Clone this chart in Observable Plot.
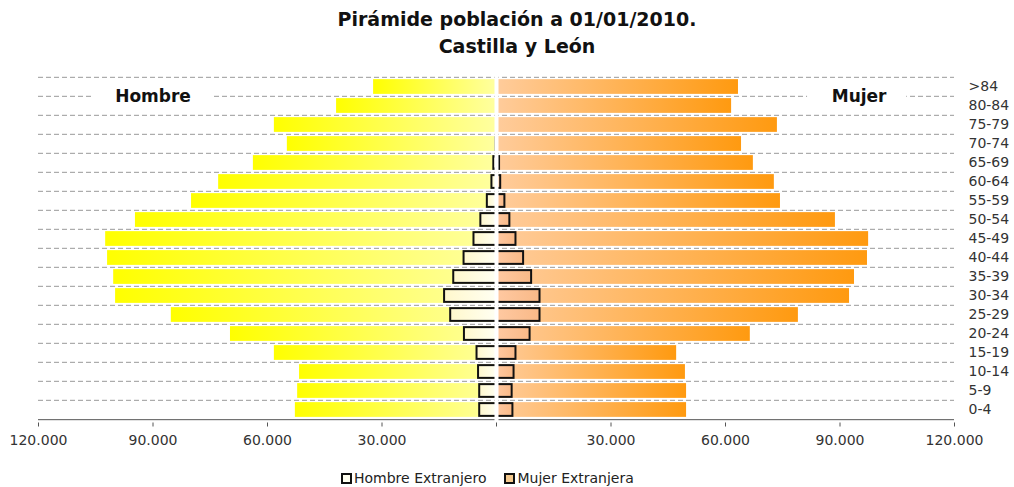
<!DOCTYPE html>
<html><head><meta charset="utf-8">
<script src="https://cdn.jsdelivr.net/npm/d3@7"></script>
<script src="https://cdn.jsdelivr.net/npm/@observablehq/plot@0.6"></script>
<style>
body{margin:0;background:#fff;}
#wrap{position:relative;width:1014px;height:487px;overflow:hidden;font-family:"DejaVu Sans",sans-serif;}
#chart{position:absolute;top:0;left:0;}
#title{position:absolute;top:6px;left:517px;transform:translateX(-50%);text-align:center;font-weight:bold;font-size:19px;line-height:27px;color:#111;white-space:nowrap;}
#legend{position:absolute;top:469px;left:341px;display:flex;align-items:center;font-size:14px;line-height:18px;color:#222;white-space:nowrap;}
#legend .sw{display:inline-block;width:7px;height:7px;border:2px solid #111;margin-right:2px;}
#legend .item{display:flex;align-items:center;margin-right:18px;}
</style></head>
<body><div id="wrap"><div id="chart"></div><div id="title">Pirámide población a 01/01/2010.<br>Castilla y León</div><div id="legend"></div></div>
<script>
// Age groups, top to bottom
const ages = [">84","80-84","75-79","70-74","65-69","60-64","55-59","50-54","45-49","40-44","35-39","30-34","25-29","20-24","15-19","10-14","5-9","0-4"];
// Total population (persons)
const hombres = [32200,41900,58200,54800,63700,72800,79900,94600,102400,101900,100300,99800,85200,69700,58200,51600,52100,52700];
const mujeres = [63400,61600,73600,64200,67300,72800,74400,88800,97500,97200,93800,92500,79100,66500,47200,49500,49800,49800];
// Foreign population (persons)
const hombresExt = [0,0,0,100,700,1200,2400,4100,5900,8500,11200,13600,12000,8400,5100,4700,4400,4400];
const mujeresExt = [0,0,0,100,800,1100,2200,3500,5100,7100,9200,11400,11400,8800,5100,4600,4100,4300];
const xTicks = [-120000,-90000,-60000,-30000,0,30000,60000,90000,120000];
const legendItems = ["Hombre Extranjero","Mujer Extranjera"];
const sexLabels = [{text:"Hombre", at:-90000, from:-106000, to:-74000},{text:"Mujer", at:95000, from:81500, to:107500}];

const W=1014, H=487, mt=74, mb=64.5, ml=38, mr=60;
const step=(H-mt-mb)/ages.length;
const inset=step*0.11;
const rows=ages.map((a,i)=>({age:a,h:hombres[i],m:mujeres[i],he:hombresExt[i],me:mujeresExt[i]}));
const loc=d3.formatLocale({decimal:",",thousands:".",grouping:[3],currency:["",""]});
const fmt=d=>d===0?"":loc.format(",")(Math.abs(d));

const plot=Plot.plot({
  width:W,height:H,marginTop:mt,marginBottom:mb,marginLeft:ml,marginRight:mr,
  style:{fontFamily:'"DejaVu Sans", sans-serif',background:"transparent"},
  x:{domain:[-120000,120000]},
  y:{domain:ages,padding:0},
  marks:[
    Plot.ruleY(ages,{y:d=>d,dy:-step/2,stroke:"#9a9a9a",strokeDasharray:"5,3",strokeWidth:1}),
    Plot.ruleY(sexLabels,{y:()=>ages[0],x1:"from",x2:"to",dy:step/2,stroke:"white",strokeWidth:4}),
    Plot.barX(rows,{y:"age",x1:0,x2:d=>-d.h,fill:"url(#gH)",insetTop:inset,insetBottom:inset}),
    Plot.barX(rows,{y:"age",x1:0,x2:d=>d.m,fill:"url(#gM)",insetTop:inset,insetBottom:inset}),
    Plot.barX(rows.filter(d=>d.he>0),{y:"age",x1:0,x2:d=>-d.he,fill:"url(#gHE)",stroke:"#111",strokeWidth:2,insetTop:inset+1,insetBottom:inset+1}),
    Plot.barX(rows.filter(d=>d.me>0),{y:"age",x1:0,x2:d=>d.me,fill:"url(#gME)",stroke:"#111",strokeWidth:2,insetTop:inset+1,insetBottom:inset+1}),
    Plot.ruleY([ages[ages.length-1]],{dy:step/2,stroke:"#555",strokeWidth:1}),
    Plot.ruleX([0],{stroke:"white",strokeWidth:4}),
    Plot.axisX({ticks:xTicks,tickFormat:fmt,tickSize:4,tickPadding:8,fontSize:14,fill:"#333",stroke:"#555",label:null}),
    Plot.axisY({anchor:"right",tickSize:0,tickPadding:14,fontSize:14,fill:"#333",label:null}),
    Plot.text(sexLabels,{x:"at",y:()=>ages[0],dy:step/2,text:"text",fontWeight:"bold",fontSize:17,fill:"#111"})
  ]
});
const svg=plot.tagName.toLowerCase()==="svg"?plot:plot.querySelector("svg");
const defs=document.createElementNS("http://www.w3.org/2000/svg","defs");
defs.innerHTML=`
<linearGradient id="gH" x1="0" x2="1" y1="0" y2="0"><stop offset="0" stop-color="#ffff00"/><stop offset="1" stop-color="#ffffa0"/></linearGradient>
<linearGradient id="gM" x1="0" x2="1" y1="0" y2="0"><stop offset="0" stop-color="#ffcc9c"/><stop offset="1" stop-color="#ff9a10"/></linearGradient>
<linearGradient id="gHE" x1="0" x2="1" y1="0" y2="0"><stop offset="0" stop-color="#fff8cc"/><stop offset="1" stop-color="#fffff2"/></linearGradient>
<linearGradient id="gME" x1="0" x2="1" y1="0" y2="0"><stop offset="0" stop-color="#ffc9a2"/><stop offset="1" stop-color="#f9b987"/></linearGradient>`;
svg.insertBefore(defs,svg.firstChild);
document.getElementById("chart").appendChild(plot);

const lg=d3.select("#legend");
const swFill=["#fffff0","#f4c98e"];
legendItems.forEach((t,i)=>{
  const it=lg.append("span").attr("class","item");
  it.append("span").attr("class","sw").style("background",swFill[i]);
  it.append("span").text(t);
});
</script>
</body></html>
